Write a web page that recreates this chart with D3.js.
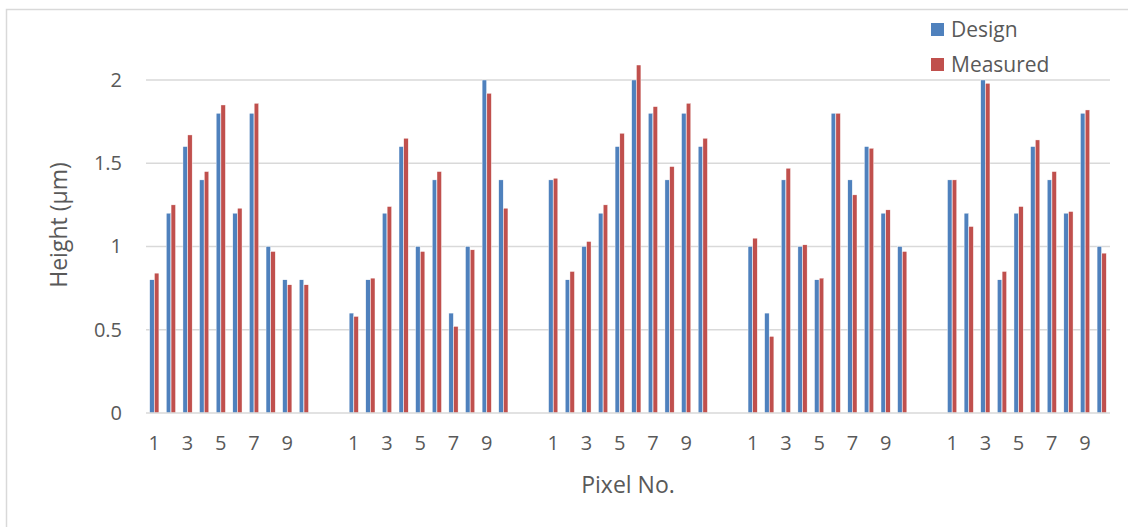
<!DOCTYPE html>
<html>
<head>
<meta charset="utf-8">
<script src="https://cdn.jsdelivr.net/npm/d3@7"></script>
<style>
  html, body { margin: 0; padding: 0; background: #fff; }
  svg text { font-family: "Open Sans", Lato, sans-serif; fill: #595959; }
</style>
</head>
<body>
<svg id="chart" width="1128" height="527"></svg>
<script>
// Pixel numbers within each block of ten
const pixelNumbers = [1, 2, 3, 4, 5, 6, 7, 8, 9, 10];
const blockCount = 5;
// Blank slots between blocks
const blockGap = 2;

// Design heights (µm), blocks 1–5
const designHeights = [
  0.8, 1.2, 1.6, 1.4, 1.8, 1.2, 1.8, 1.0, 0.8, 0.8,
  0.6, 0.8, 1.2, 1.6, 1.0, 1.4, 0.6, 1.0, 2.0, 1.4,
  1.4, 0.8, 1.0, 1.2, 1.6, 2.0, 1.8, 1.4, 1.8, 1.6,
  1.0, 0.6, 1.4, 1.0, 0.8, 1.8, 1.4, 1.6, 1.2, 1.0,
  1.4, 1.2, 2.0, 0.8, 1.2, 1.6, 1.4, 1.2, 1.8, 1.0
];

// Measured heights (µm), blocks 1–5
const measuredHeights = [
  0.84, 1.25, 1.67, 1.45, 1.85, 1.23, 1.86, 0.97, 0.77, 0.77,
  0.58, 0.81, 1.24, 1.65, 0.97, 1.45, 0.52, 0.98, 1.92, 1.23,
  1.41, 0.85, 1.03, 1.25, 1.68, 2.09, 1.84, 1.48, 1.86, 1.65,
  1.05, 0.46, 1.47, 1.01, 0.81, 1.80, 1.31, 1.59, 1.22, 0.97,
  1.40, 1.12, 1.98, 0.85, 1.24, 1.64, 1.45, 1.21, 1.82, 0.96
];

const seriesNames = ["Design", "Measured"];
const seriesColors = ["#4f81bd", "#c0504d"];
const yTicks = [0, 0.5, 1, 1.5, 2];

// Build the category slots: ten pixels per block, blank slots in between
const slots = [];
const rows = [];
for (let b = 0; b < blockCount; b++) {
  pixelNumbers.forEach((p, i) => {
    const key = `b${b}-p${p}`;
    slots.push({ key, label: p });
    rows.push({ key, values: [designHeights[b * 10 + i], measuredHeights[b * 10 + i]] });
  });
  if (b < blockCount - 1) {
    for (let g = 0; g < blockGap; g++) slots.push({ key: `gap${b}-${g}`, label: null });
  }
}

const svg = d3.select("#chart");
const W = 1128, H = 527;
const plot = { left: 146, right: 1110, top: 80, bottom: 413 };
const tickFont = 20, titleFont = 23, legendFont = 21;

// Chart frame
svg.append("path")
  .attr("d", `M6.5,${H} V9.5 H${W}`)
  .attr("fill", "none")
  .attr("stroke", "#d9d9d9")
  .attr("stroke-width", 1.5);

const x = d3.scaleBand()
  .domain(slots.map(s => s.key))
  .range([plot.left, plot.right])
  .paddingInner(0)
  .paddingOuter(0);

const y = d3.scaleLinear().domain([0, 2]).range([plot.bottom, plot.top]);

// Series offset inside each slot
const bw = x.bandwidth();
const xs = d3.scaleBand()
  .domain(seriesNames)
  .range([bw / 2 - 4.6, bw / 2 + 4.6])
  .paddingInner(0.06);

// Horizontal gridlines
svg.append("g")
  .selectAll("line")
  .data(yTicks.filter(t => t > 0))
  .join("line")
  .attr("x1", plot.left).attr("x2", plot.right)
  .attr("y1", d => y(d)).attr("y2", d => y(d))
  .attr("stroke", "#d9d9d9")
  .attr("stroke-width", 1.5);

// Y axis labels
const yAxis = svg.append("g")
  .attr("transform", `translate(${plot.left - 24},0)`)
  .call(d3.axisLeft(y).tickValues(yTicks).tickSize(0).tickPadding(0).tickFormat(d3.format("~g")));
yAxis.select(".domain").remove();
yAxis.selectAll("text").attr("font-size", tickFont).attr("font-family", null).attr("fill", "#595959");

// Bars
const groups = svg.append("g")
  .selectAll("g")
  .data(rows)
  .join("g")
  .attr("transform", d => `translate(${x(d.key)},0)`);

groups.selectAll("rect")
  .data(d => d.values.map((v, i) => ({ v, i })))
  .join("rect")
  .attr("x", d => xs(seriesNames[d.i]))
  .attr("width", xs.bandwidth())
  .attr("y", d => y(d.v))
  .attr("height", d => y(0) - y(d.v))
  .attr("fill", d => seriesColors[d.i])
  .attr("stroke", "#fff")
  .attr("stroke-width", 0.4);

// Category baseline
svg.append("line")
  .attr("x1", plot.left).attr("x2", plot.right)
  .attr("y1", y(0)).attr("y2", y(0))
  .attr("stroke", "#d9d9d9")
  .attr("stroke-width", 1.5);

// X axis labels: odd pixel numbers only
const xAxis = svg.append("g")
  .attr("transform", `translate(0,${plot.bottom + 23})`)
  .call(d3.axisBottom(x)
    .tickValues(slots.filter(s => s.label !== null && s.label % 2 === 1).map(s => s.key))
    .tickSize(0).tickPadding(0)
    .tickFormat(k => slots.find(s => s.key === k).label));
xAxis.select(".domain").remove();
xAxis.selectAll("text").attr("font-size", tickFont).attr("font-family", null).attr("fill", "#595959");

// Axis titles
svg.append("text")
  .attr("x", 628)
  .attr("y", 493)
  .attr("text-anchor", "middle")
  .attr("font-size", titleFont)
  .text("Pixel No.");

svg.append("text")
  .attr("transform", `translate(67,225) rotate(-90)`)
  .attr("text-anchor", "middle")
  .attr("font-size", titleFont)
  .text("Height (µm)");

// Legend
const legend = svg.append("g");
seriesNames.forEach((name, i) => {
  const ly = 30 + i * 35;
  legend.append("rect")
    .attr("x", 931).attr("y", ly - 7)
    .attr("width", 13).attr("height", 13)
    .attr("fill", seriesColors[i]);
  legend.append("text")
    .attr("x", 951).attr("y", ly)
    .attr("dy", "0.35em")
    .attr("font-size", legendFont)
    .text(name);
});
</script>
</body>
</html>
